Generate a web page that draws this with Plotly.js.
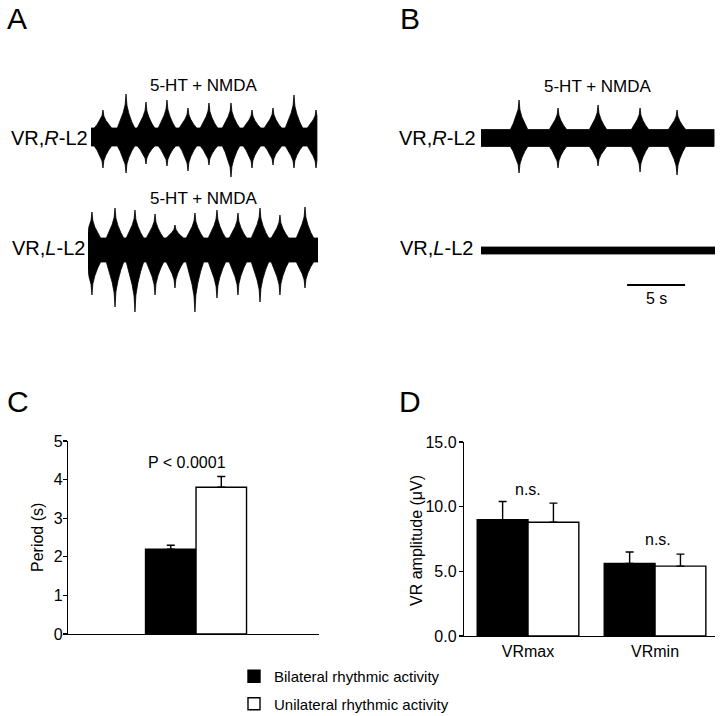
<!DOCTYPE html>
<html><head><meta charset="utf-8">
<script src="https://cdn.plot.ly/plotly-3.0.1.min.js"></script>
<style>html,body{margin:0;padding:0;background:#fff}#chart{width:720px;height:716px}</style>
</head><body><div id="chart"></div>
<script>
// ---------------- DATA ----------------
// Panel A, right L2 ventral root: burst centre times (s) and envelope peaks (a.u.)
const burstTimesA_R = [1.29, 3.28, 5.00, 6.81, 8.62, 10.43, 12.33, 14.14, 15.95, 17.76, 19.66];
const burstUpA_R    = [2.7, 4.3, 3.5, 3.7, 2.9, 3.4, 3.4, 2.7, 2.9, 4.2, 2.7];
const burstDownA_R  = [-3.1, -3.6, -2.7, -2.9, -3.4, -2.8, -4.0, -3.1, -2.8, -3.1, -3.1];
const bandA_R = 0.9, spanA_R = [0.26, 19.74];

// Panel A, left L2 ventral root
const burstTimesA_L = [0.34, 2.33, 4.05, 5.78, 7.50, 9.22, 11.12, 12.93, 14.83, 16.55, 18.71];
const burstUpA_L    = [3.8, 4.2, 4.0, 3.6, 2.5, 3.7, 4.0, 3.7, 4.2, 3.5, 4.3];
const burstDownA_L  = [-4.5, -5.7, -6.2, -4.5, -3.8, -6.2, -4.8, -4.5, -5.2, -4.5, -3.8];
const bandA_L = 1.2, spanA_L = [0.0, 19.83];

// Panel B, right L2 ventral root
const burstTimesB_R = [3.28, 6.64, 10.09, 13.71, 16.90];
const burstUpB_R    = [3.8, 3.0, 3.3, 3.0, 2.8];
const burstDownB_R  = [-3.5, -3.0, -2.8, -3.4, -3.7];
const bandB_R = 0.85, spanB_R = [0.0, 20.09];

// Panel B, left L2 ventral root (silent)
const bandB_L = 0.35, spanB_L = [0.0, 20.17];

// Scale bar (s)
const scaleBarSeconds = 5;

// Panel C: locomotor period (s)
const periodCategory = ['Period'];
const periodBilateral = [2.2];
const periodBilateralErr = [0.1];
const periodUnilateral = [3.8];
const periodUnilateralErr = [0.28];

// Panel D: VR amplitude (µV)
const ampCategories = ['VRmax', 'VRmin'];
const ampBilateral = [9.0, 5.6];
const ampBilateralErr = [1.4, 0.9];
const ampUnilateral = [8.8, 5.4];
const ampUnilateralErr = [1.47, 0.93];

const seriesNames = ['Bilateral rhythmic activity', 'Unilateral rhythmic activity'];

// ---------------- RENDERING ----------------
const FONT = 'Liberation Sans, Arial, Helvetica, sans-serif';
const W = 720, H = 716;
const fx = p => p / W;
const fy = p => (H - p) / H;

// burst profile shape (style only)
const PROFILE_DT = [-0.75, -0.5, -0.25, -0.08, 0, 0.08, 0.25, 0.5, 0.75];
const PROFILE_F  = [0, 0.2, 0.45, 0.68, 1, 0.66, 0.42, 0.18, 0];

function envelope(times, peaks, band, span, sign) {
  const pts = [[span[0], sign * band]];
  times.forEach((tc, i) => {
    PROFILE_DT.forEach((d, k) => {
      const t = Math.min(span[1], Math.max(span[0], tc + d));
      pts.push([t, sign * band + PROFILE_F[k] * (peaks[i] - sign * band)]);
    });
  });
  pts.push([span[1], sign * band]);
  return pts.map((p, i) => [p[0], p[1], i]).sort((a, b) => a[0] - b[0] || a[2] - b[2]);
}

function recording(times, ups, downs, band, span, offset, xa, ya) {
  const up = envelope(times, ups, band, span, 1);
  const dn = envelope(times, downs, band, span, -1).reverse();
  const all = up.concat(dn);
  return {
    type: 'scatter', mode: 'lines', xaxis: xa, yaxis: ya,
    x: all.map(p => p[0]), y: all.map(p => p[1] + offset),
    fill: 'toself', fillcolor: '#000', line: {color: '#000', width: 0.8},
    hoverinfo: 'skip', showlegend: false
  };
}

const data = [
  recording(burstTimesA_R, burstUpA_R, burstDownA_R, bandA_R, spanA_R, 0, 'x3', 'y3'),
  recording(burstTimesA_L, burstUpA_L, burstDownA_L, bandA_L, spanA_L, -11.3, 'x3', 'y3'),
  recording(burstTimesB_R, burstUpB_R, burstDownB_R, bandB_R, spanB_R, 0, 'x4', 'y4'),
  recording([], [], [], bandB_L, spanB_L, -11.25, 'x4', 'y4'),
  {
    type: 'scatter', mode: 'lines', xaxis: 'x4', yaxis: 'y4',
    x: [12.59, 12.59 + scaleBarSeconds], y: [-14.7, -14.7],
    line: {color: '#000', width: 2}, hoverinfo: 'skip', showlegend: false
  }
];

const errStyle = {thickness: 1.4, width: 4, color: '#000'};
function bars(x, y, err, fill, offset, xa, ya, name, legend) {
  return {
    type: 'bar', x: x, y: y, xaxis: xa, yaxis: ya, name: name, showlegend: legend,
    legendgroup: name,
    width: 0.4, offset: offset,
    marker: {color: fill, line: {color: '#000', width: 1.4}},
    error_y: Object.assign({type: 'data', symmetric: false, array: err, arrayminus: err.map(() => 0)}, errStyle),
    hoverinfo: 'y'
  };
}
data.push(bars(periodCategory, periodBilateral, periodBilateralErr, '#000', -0.4, 'x', 'y', seriesNames[0], true));
data.push(bars(periodCategory, periodUnilateral, periodUnilateralErr, '#fff', 0, 'x', 'y', seriesNames[1], true));
data.push(bars(ampCategories, ampBilateral, ampBilateralErr, '#000', -0.4, 'x2', 'y2', seriesNames[0], false));
data.push(bars(ampCategories, ampUnilateral, ampUnilateralErr, '#fff', 0, 'x2', 'y2', seriesNames[1], false));

const axLine = {showline: true, linecolor: '#000', linewidth: 1.2, showgrid: false, zeroline: false};
const hidden = {visible: false, showgrid: false, zeroline: false, fixedrange: true};

const ann = (text, x, y, size, extra) => Object.assign({
  text: text, x: x, y: y, xref: 'paper', yref: 'paper', showarrow: false,
  font: {family: FONT, size: size, color: '#000'}, xanchor: 'center', yanchor: 'middle'
}, extra || {});

const layout = {
  width: W, height: H,
  margin: {l: 0, r: 0, t: 0, b: 0, autoexpand: false},
  paper_bgcolor: '#fff', plot_bgcolor: 'rgba(0,0,0,0)',
  font: {family: FONT, color: '#000'},
  barmode: 'overlay',
  showlegend: true,
  legend: {
    x: fx(234), y: fy(660), xanchor: 'left', yanchor: 'top',
    font: {family: FONT, size: 15, color: '#000'},
    bgcolor: 'rgba(0,0,0,0)', borderwidth: 0, traceorder: 'grouped', tracegroupgap: 5
  },
  xaxis: Object.assign({}, axLine, {
    domain: [fx(68), fx(319)], anchor: 'y', type: 'category', range: [-1.014, 0.974],
    ticks: '', showticklabels: false, fixedrange: true
  }),
  yaxis: Object.assign({}, axLine, {
    domain: [fy(634), fy(441)], anchor: 'x', range: [0, 5], dtick: 1,
    ticks: 'outside', ticklen: 4, tickwidth: 1.2, tickcolor: '#000',
    tickfont: {family: FONT, size: 16}, ticklabelstandoff: -3, fixedrange: true
  }),
  xaxis2: Object.assign({}, axLine, {
    domain: [fx(464), fx(715)], anchor: 'y2', type: 'category', range: [-0.504, 1.472],
    ticks: '', tickfont: {family: FONT, size: 16}, ticklabelstandoff: 1, fixedrange: true
  }),
  yaxis2: Object.assign({}, axLine, {
    domain: [fy(636), fy(442)], anchor: 'x2', range: [0, 15], dtick: 5, tickformat: '.1f',
    ticks: 'outside', ticklen: 4, tickwidth: 1.2, tickcolor: '#000',
    tickfont: {family: FONT, size: 16}, ticklabelstandoff: -1, fixedrange: true
  }),
  xaxis3: Object.assign({}, hidden, {domain: [fx(88), fx(318)], range: [0, 19.83], anchor: 'y3'}),
  yaxis3: Object.assign({}, hidden, {domain: [fy(330), fy(60)], range: [-19.3, 7.7], anchor: 'x3'}),
  xaxis4: Object.assign({}, hidden, {domain: [fx(481), fx(715)], range: [0, 20.17], anchor: 'y4'}),
  yaxis4: Object.assign({}, hidden, {domain: [fy(330), fy(60)], range: [-19.2, 7.8], anchor: 'x4'}),
  annotations: [
    ann('A', fx(17), fy(18), 30),
    ann('B', fx(410), fy(18), 30),
    ann('C', fx(18), fy(401), 30),
    ann('D', fx(410), fy(401), 30),
    ann('5-HT + NMDA', fx(204), fy(85), 17),
    ann('5-HT + NMDA', fx(204), fy(198), 17),
    ann('5-HT + NMDA', fx(598), fy(87), 17),
    ann('VR,<i>R</i>-L2', fx(90), fy(138), 20, {xanchor: 'right'}),
    ann('VR,<i>L</i>-L2', fx(87), fy(248), 20, {xanchor: 'right'}),
    ann('VR,<i>R</i>-L2', fx(478), fy(138), 20, {xanchor: 'right'}),
    ann('VR,<i>L</i>-L2', fx(475), fy(248), 20, {xanchor: 'right'}),
    ann('Period (s)', fx(37), fy(538), 16, {textangle: -90}),
    ann('VR amplitude (μV)', fx(416), fy(540), 16, {textangle: -90}),
    ann('5 s', 12.59 + scaleBarSeconds / 2, -16.0, 16, {xref: 'x4', yref: 'y4'}),
    ann('P < 0.0001', -0.07, 4.45, 16, {xref: 'x', yref: 'y'}),
    ann('n.s.', 0, 11.35, 16, {xref: 'x2', yref: 'y2'}),
    ann('n.s.', 1.02, 7.45, 16, {xref: 'x2', yref: 'y2'})
  ]
};

Plotly.newPlot('chart', data, layout, {displayModeBar: false, staticPlot: true});
</script>
</body></html>
